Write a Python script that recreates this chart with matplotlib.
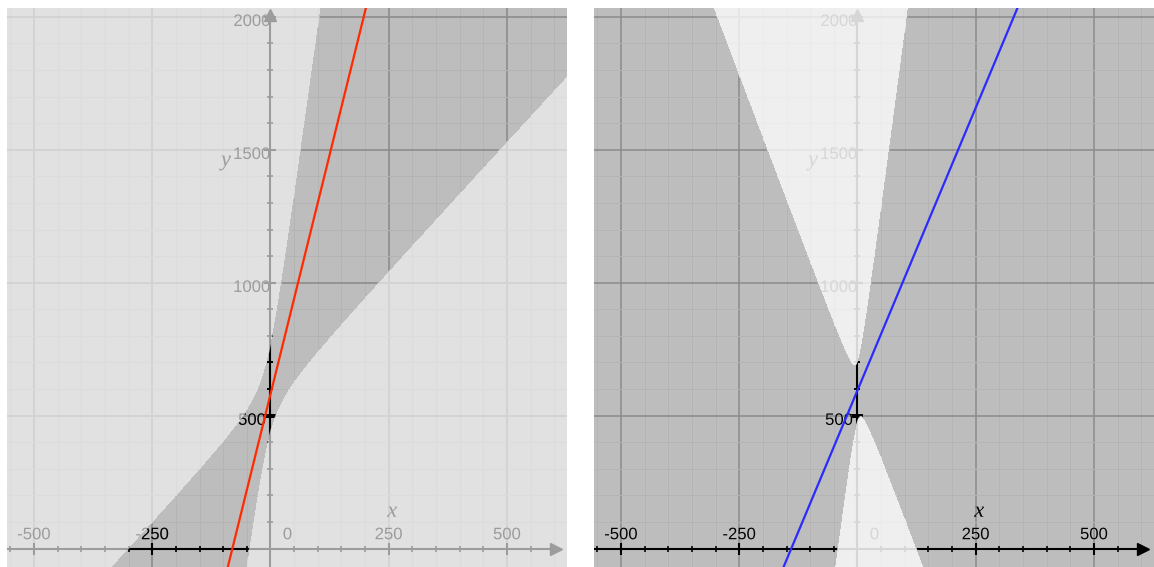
import numpy as np
import matplotlib
matplotlib.use('Agg')
import matplotlib.pyplot as plt
from matplotlib.font_manager import FontProperties
from matplotlib.patches import PathPatch
from matplotlib.textpath import TextPath
from matplotlib.transforms import Affine2D, ScaledTranslation

# view window, same for both panels
x_range = (-557, 627)
y_range = (-69, 2033)
x_ticks = np.arange(-550, 627, 50)
y_ticks = np.arange(100, 2033, 100)
x_label_ticks = [-500, -250, 250, 500]
y_label_ticks = [500, 1000, 1500, 2000]

# shaded regions: y^2 + a*x*y + b*x^2 + c*x + d*y + e < 0  (a, b, c, d, e)
left_conic = [-14.87, 25.0, 8599.0, -1205.0, 338514.0]
right_conic = [-8.68, -63.0, 5216.0, -1182.0, 337637.0]

# lines: slope, intercept
red_line = [7.2, 580.0]
blue_line = [4.25, 595.0]

arrow_x = 603
arrow_y = 2007

fig = plt.figure(figsize=(11.54, 5.67), dpi=100)
tick_font = FontProperties(family='Liberation Sans', size=12)
var_font = FontProperties(family='Liberation Serif', style='italic', size=16)


def conic(p, x, y):
    a, b, c, d, e = p
    return y**2 + a*x*y + b*x**2 + c*x + d*y + e


def label(ax, x, y, s, prop, color, clip):
    tp = TextPath((0, 0), s, prop=prop)
    bb = tp.get_extents()
    tr = (Affine2D().translate(-(bb.x0 + bb.x1) / 2, -(bb.y0 + bb.y1) / 2).scale(fig.dpi / 72)
          + ScaledTranslation(x, y, ax.transData))
    p = PathPatch(tp, transform=tr, fc=color, ec='none', lw=0, zorder=3)
    ax.add_patch(p)
    if clip is not None:
        p.set_clip_path(clip, ax.transData)


def layer(ax, ink, gmaj, gmin, clip):
    arts = []
    for v in x_ticks:
        if v == 0:
            continue
        major = v % 250 == 0
        arts.append(ax.axvline(v, color=gmaj if major else gmin, lw=1.3 if major else 0.8, zorder=1))
    for v in y_ticks:
        major = v % 500 == 0
        arts.append(ax.axhline(v, color=gmaj if major else gmin, lw=1.3 if major else 0.8, zorder=1))
    arts += ax.plot([x_range[0], arrow_x], [0, 0], color=ink, lw=1.5, zorder=2)
    arts += ax.plot([0, 0], [y_range[0], arrow_y], color=ink, lw=1.5, zorder=2)
    arts += ax.plot([arrow_x], [0], marker='>', ms=9, color=ink, zorder=2)
    arts += ax.plot([0], [arrow_y], marker='^', ms=9, color=ink, zorder=2)
    xs = [v for v in x_ticks if v % 250 != 0]
    arts += ax.plot(xs, np.zeros(len(xs)), ls='none', marker='|', ms=4.5, mew=1.2, color=ink, zorder=2)
    arts += ax.plot(x_label_ticks, np.zeros(4), ls='none', marker='|', ms=8, mew=1.5, color=ink, zorder=2)
    ys = [v for v in y_ticks if v % 500 != 0]
    arts += ax.plot(np.zeros(len(ys)), ys, ls='none', marker='_', ms=4.5, mew=1.2, color=ink, zorder=2)
    arts += ax.plot(np.zeros(4), y_label_ticks, ls='none', marker='_', ms=8, mew=1.5, color=ink, zorder=2)
    if clip is not None:
        for a in arts:
            a.set_clip_path(clip, ax.transData)
    for v in x_label_ticks:
        label(ax, v, 57, str(v), tick_font, ink, clip)
    label(ax, 36, 57, '0', tick_font, ink, clip)
    for v in y_label_ticks:
        label(ax, -39, v - 13, str(v), tick_font, ink, clip)
    label(ax, 257, 139, 'x', var_font, ink, clip)
    label(ax, -96, 1450, 'y', var_font, ink, clip)


def panel(left, p, bg, ink, gmaj, gmin, line, line_color):
    ax = fig.add_axes([left / 1154, 0, 560 / 1154, 559 / 567])
    ax.set_facecolor(bg)
    for s in ax.spines.values():
        s.set_visible(False)
    ax.set_xticks([])
    ax.set_yticks([])
    X, Y = np.meshgrid(np.linspace(*x_range, 700), np.linspace(*y_range, 700))
    F = conic(p, X, Y)
    cs = ax.contourf(X, Y, F, levels=[F.min() - 1, 0], colors=['#bdbdbd'], zorder=0.5)
    inside = cs.get_paths()[0]
    layer(ax, ink, gmaj, gmin, None)
    layer(ax, 'black', '#8e8e8e', '#b4b4b4', inside)
    xl = np.array(x_range, dtype=float)
    ax.plot(xl, line[0] * xl + line[1], color=line_color, lw=1.6, zorder=4)
    ax.set_xlim(x_range)
    ax.set_ylim(y_range)
    return ax


panel(7, left_conic, '#e1e1e1', '#9c9c9c', '#d2d2d2', '#dcdcdc', red_line, '#ff2a00')
panel(594, right_conic, '#efefef', '#d6d6d6', '#e6e6e6', '#ebebeb', blue_line, '#2b2bff')

fig.savefig('out.png', dpi=100)
